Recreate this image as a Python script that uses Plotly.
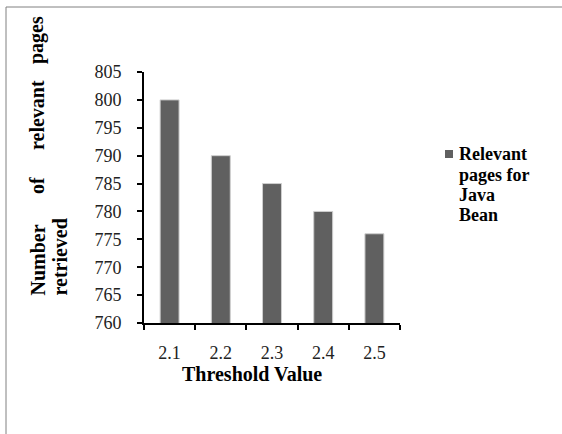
import plotly.graph_objects as go

# Data
thresholds = ["2.1", "2.2", "2.3", "2.4", "2.5"]
relevant_pages = [800, 790, 785, 780, 776]
series_name = ["Relevant", "pages for", "Java", "Bean"]
y_title_line1 = ["Number", "of", "relevant", "pages"]
y_title_line2 = "retrieved"
x_title = "Threshold Value"

W, H = 562, 434
L, R, T, B = 144, 162, 72, 111
PW, PH = W - L - R, H - T - B

BAR = "#606060"
SERIF = "'Liberation Serif', 'Times New Roman', Times, serif"
TITLE_FONT = dict(family=SERIF, size=20, color="black", weight="bold")


def px(x):
    return (x - L) / PW


def py(y):
    return (H - B - y) / PH


fig = go.Figure()
fig.add_trace(go.Bar(
    x=thresholds,
    y=relevant_pages,
    marker=dict(color=BAR, line=dict(color="#cfcfcf", width=1)),
    showlegend=False,
))

annotations = []
# y-axis title, justified over two rotated lines (reads bottom to top)
word_pos = [(298, "bottom"), (186, "middle"), (115, "middle"), (14, "top")]
for word, (wy, anchor) in zip(y_title_line1, word_pos):
    annotations.append(dict(
        text=word, x=px(37), y=py(wy), xref="paper", yref="paper",
        xanchor="center", yanchor=anchor, textangle=-90, showarrow=False,
        font=TITLE_FONT,
    ))
annotations.append(dict(
    text=y_title_line2, x=px(59), y=py(298), xref="paper", yref="paper",
    xanchor="center", yanchor="bottom", textangle=-90, showarrow=False,
    font=TITLE_FONT,
))
# x-axis title
annotations.append(dict(
    text=x_title, x=px(252), y=py(374), xref="paper", yref="paper",
    xanchor="center", yanchor="middle", showarrow=False,
    font=TITLE_FONT,
))
# legend text
for i, line in enumerate(series_name):
    annotations.append(dict(
        text=line, x=px(457), y=py(154 + 20.5 * i), xref="paper", yref="paper",
        xanchor="left", yanchor="middle", showarrow=False,
        font=dict(family=SERIF, size=18, color="black", weight="bold"),
    ))

shapes = [
    # legend swatch
    dict(type="rect", xref="paper", yref="paper",
         x0=px(445), x1=px(453), y0=py(158), y1=py(150),
         fillcolor=BAR, line=dict(width=0)),
    # chart frame (left and top edges)
    dict(type="path", xref="paper", yref="paper",
         path=f"M {px(6)} {py(440)} L {px(6)} {py(7)} L {px(570)} {py(7)}",
         line=dict(color="#808080", width=1)),
]

fig.update_layout(
    width=W, height=H,
    margin=dict(l=L, r=R, t=T, b=B, autoexpand=False),
    paper_bgcolor="white", plot_bgcolor="white",
    bargap=0.63,
    showlegend=False,
    annotations=annotations,
    shapes=shapes,
    font=dict(family=SERIF, color="#222222"),
)
fig.update_xaxes(
    type="category", showline=True, linecolor="black", linewidth=2,
    ticks="outside", tickson="boundaries", ticklen=5, tickwidth=2, tickcolor="black",
    tickfont=dict(family=SERIF, size=18, color="#222222"),
    ticklabelstandoff=12, showgrid=False, zeroline=False,
)
fig.update_yaxes(
    range=[760, 805], dtick=5, tick0=760, showline=True, linecolor="black", linewidth=2,
    ticks="outside", ticklen=5, tickwidth=2, tickcolor="black",
    tickfont=dict(family=SERIF, size=18, color="#222222"),
    ticklabelstandoff=12, showgrid=False, zeroline=False,
)

fig.write_html("out.html")
